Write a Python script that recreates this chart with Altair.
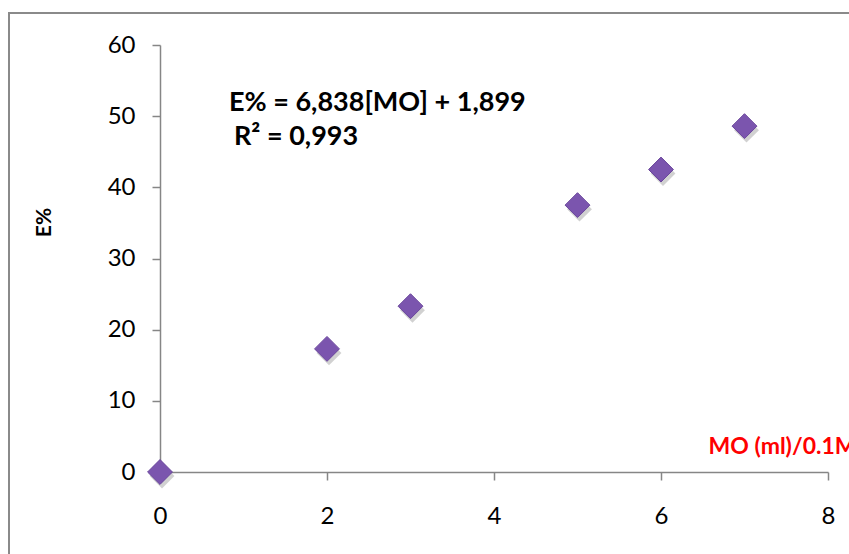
import altair as alt
import pandas as pd

# Measured extraction data
mo_volume = [0, 2, 3, 5, 6, 7]
extraction_pct = [0, 17.3, 23.3, 37.5, 42.5, 48.6]

x_ticks = [0, 2, 4, 6, 8]
y_ticks = [0, 10, 20, 30, 40, 50, 60]

equation_text = "E% = 6,838[MO] + 1,899"
r2_text = "R² = 0,993"

df = pd.DataFrame({"mo": mo_volume, "e": extraction_pct})

W, H = 668, 427
FONT = "Lato"
AXIS_GRAY = "#868686"

x_enc = alt.X(
    "mo:Q",
    scale=alt.Scale(domain=[0, 8], nice=False),
    axis=alt.Axis(
        values=x_ticks,
        grid=False,
        labelFlush=False,
        domainColor=AXIS_GRAY,
        domainWidth=1.5,
        tickColor=AXIS_GRAY,
        tickWidth=1.5,
        tickSize=8,
        labelPadding=24,
        labelFontSize=24,
        labelFont=FONT,
        labelColor="#000000",
        title="MO (ml)/0.1M",
        titleColor="#ff0000",
        titleFont=FONT,
        titleFontSize=23,
        titleFontWeight="bold",
        titleAnchor="start",
        titleAlign="left",
        titleBaseline="middle",
        titleX=548,
        titleY=-26,
    ),
)

y_enc = alt.Y(
    "e:Q",
    scale=alt.Scale(domain=[0, 60], nice=False),
    axis=alt.Axis(
        values=y_ticks,
        grid=False,
        labelFlush=False,
        domainColor=AXIS_GRAY,
        domainWidth=1.5,
        tickColor=AXIS_GRAY,
        tickWidth=1.5,
        tickSize=8,
        labelPadding=17,
        labelFontSize=24,
        labelFont=FONT,
        labelColor="#000000",
        title="E%",
        titleFont=FONT,
        titleFontSize=21,
        titleFontWeight="bold",
        titleAngle=-90,
        titleBaseline="middle",
        titleAlign="center",
        titleX=-116,
        titleY=177,
    ),
)

frame = alt.Chart(pd.DataFrame({"k": [0]})).mark_rect(
    fill=None, stroke="#8a8a8a", strokeWidth=2
).encode(
    x=alt.value(-151), x2=alt.value(W + 80),
    y=alt.value(-32), y2=alt.value(H + 120),
)

shadow = alt.Chart(df).mark_point(
    shape="diamond", filled=True, size=620, color="#000000", opacity=0.18,
    xOffset=2, yOffset=4,
).encode(x=x_enc, y=y_enc)

points = alt.Chart(df).mark_point(
    shape="diamond", filled=True, size=620, color="#7b55ae", opacity=1,
    stroke="#6a469c", strokeWidth=1,
).encode(x=x_enc, y=y_enc)

eq_style = dict(font=FONT, fontSize=27, fontWeight="bold", align="left",
                baseline="middle", color="#000000")

equation = alt.Chart(pd.DataFrame({"t": [equation_text]})).mark_text(**eq_style).encode(
    text="t:N", x=alt.value(69), y=alt.value(58)
)
r2 = alt.Chart(pd.DataFrame({"t": [r2_text]})).mark_text(**eq_style).encode(
    text="t:N", x=alt.value(74), y=alt.value(92)
)

chart = (
    alt.layer(frame, shadow, points, equation, r2)
    .properties(
        width=W,
        height=H,
        autosize=alt.AutoSizeParams(type="none"),
        padding={"left": 160, "top": 45, "right": 21, "bottom": 82},
        background="#ffffff",
    )
    .configure_view(stroke=None)
)

chart.save("out.html", embed_options={"renderer": "svg", "actions": False})
